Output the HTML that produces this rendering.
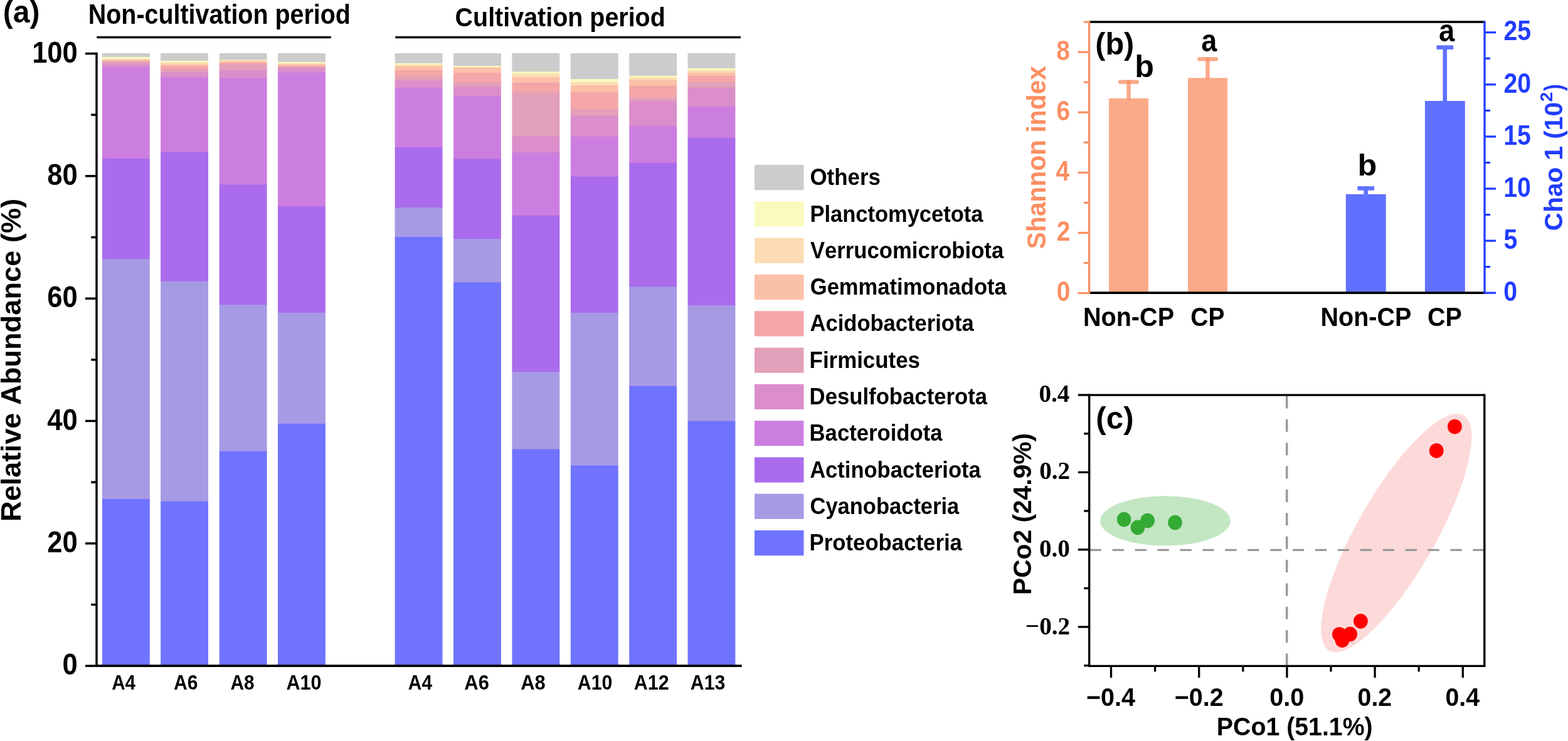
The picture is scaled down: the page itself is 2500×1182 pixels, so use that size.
<!DOCTYPE html>
<html><head><meta charset="utf-8"><title>Figure</title>
<style>
html,body{margin:0;padding:0;background:#fff;}
svg{display:block;}
text{font-kerning:none;}
</style></head>
<body>
<svg width="2500" height="1182" viewBox="0 0 2500 1182">
<rect x="0" y="0" width="2500" height="1182" fill="#FFFFFF"/>
<rect x="162.90" y="84.90" width="75.90" height="7.00" fill="#CCCCCC"/>
<rect x="162.90" y="90.90" width="75.90" height="4.10" fill="#FAFAC0"/>
<rect x="162.90" y="94.00" width="75.90" height="2.50" fill="#FCDCB2"/>
<rect x="162.90" y="95.50" width="75.90" height="2.40" fill="#FBC0A8"/>
<rect x="162.90" y="96.90" width="75.90" height="3.00" fill="#F5A6A8"/>
<rect x="162.90" y="98.90" width="75.90" height="3.80" fill="#E3A0BA"/>
<rect x="162.90" y="101.70" width="75.90" height="6.30" fill="#DB8ECA"/>
<rect x="162.90" y="107.00" width="75.90" height="147.00" fill="#CC7EE0"/>
<rect x="162.90" y="253.00" width="75.90" height="161.10" fill="#AA6CEC"/>
<rect x="162.90" y="413.10" width="75.90" height="383.80" fill="#A79AE5"/>
<rect x="162.90" y="795.90" width="75.90" height="266.10" fill="#7073FF"/>
<rect x="256.10" y="84.90" width="75.90" height="13.00" fill="#CCCCCC"/>
<rect x="256.10" y="96.90" width="75.90" height="3.40" fill="#FAFAC0"/>
<rect x="256.10" y="99.30" width="75.90" height="4.60" fill="#FCDCB2"/>
<rect x="256.10" y="102.90" width="75.90" height="3.40" fill="#FBC0A8"/>
<rect x="256.10" y="105.30" width="75.90" height="6.30" fill="#F5A6A8"/>
<rect x="256.10" y="110.60" width="75.90" height="5.30" fill="#E3A0BA"/>
<rect x="256.10" y="114.90" width="75.90" height="9.30" fill="#DB8ECA"/>
<rect x="256.10" y="123.20" width="75.90" height="120.50" fill="#CC7EE0"/>
<rect x="256.10" y="242.70" width="75.90" height="207.00" fill="#AA6CEC"/>
<rect x="256.10" y="448.70" width="75.90" height="352.00" fill="#A79AE5"/>
<rect x="256.10" y="799.70" width="75.90" height="262.30" fill="#7073FF"/>
<rect x="349.70" y="84.90" width="75.90" height="11.60" fill="#CCCCCC"/>
<rect x="349.70" y="95.50" width="75.90" height="1.90" fill="#FAFAC0"/>
<rect x="349.70" y="96.40" width="75.90" height="2.20" fill="#FCDCB2"/>
<rect x="349.70" y="97.60" width="75.90" height="3.40" fill="#FBC0A8"/>
<rect x="349.70" y="100.00" width="75.90" height="3.30" fill="#F5A6A8"/>
<rect x="349.70" y="102.30" width="75.90" height="11.10" fill="#E3A0BA"/>
<rect x="349.70" y="112.40" width="75.90" height="13.20" fill="#DB8ECA"/>
<rect x="349.70" y="124.60" width="75.90" height="170.90" fill="#CC7EE0"/>
<rect x="349.70" y="294.50" width="75.90" height="192.60" fill="#AA6CEC"/>
<rect x="349.70" y="486.10" width="75.90" height="234.60" fill="#A79AE5"/>
<rect x="349.70" y="719.70" width="75.90" height="342.30" fill="#7073FF"/>
<rect x="443.00" y="84.90" width="75.90" height="15.00" fill="#CCCCCC"/>
<rect x="443.00" y="98.90" width="75.90" height="3.00" fill="#FAFAC0"/>
<rect x="443.00" y="100.90" width="75.90" height="3.10" fill="#FCDCB2"/>
<rect x="443.00" y="103.00" width="75.90" height="2.80" fill="#FBC0A8"/>
<rect x="443.00" y="104.80" width="75.90" height="3.40" fill="#F5A6A8"/>
<rect x="443.00" y="107.20" width="75.90" height="1.90" fill="#E3A0BA"/>
<rect x="443.00" y="108.10" width="75.90" height="8.50" fill="#DB8ECA"/>
<rect x="443.00" y="115.60" width="75.90" height="214.40" fill="#CC7EE0"/>
<rect x="443.00" y="329.00" width="75.90" height="170.80" fill="#AA6CEC"/>
<rect x="443.00" y="498.80" width="75.90" height="178.00" fill="#A79AE5"/>
<rect x="443.00" y="675.80" width="75.90" height="386.20" fill="#7073FF"/>
<rect x="629.60" y="84.90" width="75.90" height="17.00" fill="#CCCCCC"/>
<rect x="629.60" y="100.90" width="75.90" height="3.30" fill="#FAFAC0"/>
<rect x="629.60" y="103.20" width="75.90" height="3.40" fill="#FCDCB2"/>
<rect x="629.60" y="105.60" width="75.90" height="7.30" fill="#FBC0A8"/>
<rect x="629.60" y="111.90" width="75.90" height="11.60" fill="#F5A6A8"/>
<rect x="629.60" y="122.50" width="75.90" height="6.70" fill="#E3A0BA"/>
<rect x="629.60" y="128.20" width="75.90" height="12.70" fill="#DB8ECA"/>
<rect x="629.60" y="139.90" width="75.90" height="96.00" fill="#CC7EE0"/>
<rect x="629.60" y="234.90" width="75.90" height="97.20" fill="#AA6CEC"/>
<rect x="629.60" y="331.10" width="75.90" height="47.80" fill="#A79AE5"/>
<rect x="629.60" y="377.90" width="75.90" height="684.10" fill="#7073FF"/>
<rect x="723.00" y="84.90" width="75.90" height="21.10" fill="#CCCCCC"/>
<rect x="723.00" y="105.00" width="75.90" height="3.40" fill="#FAFAC0"/>
<rect x="723.00" y="107.40" width="75.90" height="1.30" fill="#FCDCB2"/>
<rect x="723.00" y="107.70" width="75.90" height="9.70" fill="#FBC0A8"/>
<rect x="723.00" y="116.40" width="75.90" height="15.70" fill="#F5A6A8"/>
<rect x="723.00" y="131.10" width="75.90" height="7.70" fill="#E3A0BA"/>
<rect x="723.00" y="137.80" width="75.90" height="16.60" fill="#DB8ECA"/>
<rect x="723.00" y="153.40" width="75.90" height="101.00" fill="#CC7EE0"/>
<rect x="723.00" y="253.40" width="75.90" height="128.60" fill="#AA6CEC"/>
<rect x="723.00" y="381.00" width="75.90" height="70.20" fill="#A79AE5"/>
<rect x="723.00" y="450.20" width="75.90" height="611.80" fill="#7073FF"/>
<rect x="816.40" y="84.90" width="75.90" height="30.50" fill="#CCCCCC"/>
<rect x="816.40" y="114.40" width="75.90" height="4.40" fill="#FAFAC0"/>
<rect x="816.40" y="117.80" width="75.90" height="6.20" fill="#FCDCB2"/>
<rect x="816.40" y="123.00" width="75.90" height="9.70" fill="#FBC0A8"/>
<rect x="816.40" y="131.70" width="75.90" height="17.00" fill="#F5A6A8"/>
<rect x="816.40" y="147.70" width="75.90" height="71.00" fill="#E3A0BA"/>
<rect x="816.40" y="217.70" width="75.90" height="26.60" fill="#DB8ECA"/>
<rect x="816.40" y="243.30" width="75.90" height="101.50" fill="#CC7EE0"/>
<rect x="816.40" y="343.80" width="75.90" height="250.40" fill="#AA6CEC"/>
<rect x="816.40" y="593.20" width="75.90" height="124.30" fill="#A79AE5"/>
<rect x="816.40" y="716.50" width="75.90" height="345.50" fill="#7073FF"/>
<rect x="909.80" y="84.90" width="75.90" height="42.20" fill="#CCCCCC"/>
<rect x="909.80" y="126.10" width="75.90" height="5.90" fill="#FAFAC0"/>
<rect x="909.80" y="131.00" width="75.90" height="6.20" fill="#FCDCB2"/>
<rect x="909.80" y="136.20" width="75.90" height="11.80" fill="#FBC0A8"/>
<rect x="909.80" y="147.00" width="75.90" height="28.30" fill="#F5A6A8"/>
<rect x="909.80" y="174.30" width="75.90" height="10.70" fill="#E3A0BA"/>
<rect x="909.80" y="184.00" width="75.90" height="34.70" fill="#DB8ECA"/>
<rect x="909.80" y="217.70" width="75.90" height="64.90" fill="#CC7EE0"/>
<rect x="909.80" y="281.60" width="75.90" height="218.30" fill="#AA6CEC"/>
<rect x="909.80" y="498.90" width="75.90" height="244.60" fill="#A79AE5"/>
<rect x="909.80" y="742.50" width="75.90" height="319.50" fill="#7073FF"/>
<rect x="1003.20" y="84.90" width="75.90" height="36.90" fill="#CCCCCC"/>
<rect x="1003.20" y="120.80" width="75.90" height="3.80" fill="#FAFAC0"/>
<rect x="1003.20" y="123.60" width="75.90" height="5.20" fill="#FCDCB2"/>
<rect x="1003.20" y="127.80" width="75.90" height="10.10" fill="#FBC0A8"/>
<rect x="1003.20" y="136.90" width="75.90" height="20.10" fill="#F5A6A8"/>
<rect x="1003.20" y="156.00" width="75.90" height="6.60" fill="#E3A0BA"/>
<rect x="1003.20" y="161.60" width="75.90" height="40.30" fill="#DB8ECA"/>
<rect x="1003.20" y="200.90" width="75.90" height="60.00" fill="#CC7EE0"/>
<rect x="1003.20" y="259.90" width="75.90" height="198.60" fill="#AA6CEC"/>
<rect x="1003.20" y="457.50" width="75.90" height="159.10" fill="#A79AE5"/>
<rect x="1003.20" y="615.60" width="75.90" height="446.40" fill="#7073FF"/>
<rect x="1096.50" y="84.90" width="75.90" height="25.00" fill="#CCCCCC"/>
<rect x="1096.50" y="108.90" width="75.90" height="4.10" fill="#FAFAC0"/>
<rect x="1096.50" y="112.00" width="75.90" height="5.00" fill="#FCDCB2"/>
<rect x="1096.50" y="116.00" width="75.90" height="6.00" fill="#FBC0A8"/>
<rect x="1096.50" y="121.00" width="75.90" height="11.20" fill="#F5A6A8"/>
<rect x="1096.50" y="131.20" width="75.90" height="9.70" fill="#E3A0BA"/>
<rect x="1096.50" y="139.90" width="75.90" height="30.90" fill="#DB8ECA"/>
<rect x="1096.50" y="169.80" width="75.90" height="51.10" fill="#CC7EE0"/>
<rect x="1096.50" y="219.90" width="75.90" height="268.20" fill="#AA6CEC"/>
<rect x="1096.50" y="487.10" width="75.90" height="185.50" fill="#A79AE5"/>
<rect x="1096.50" y="671.60" width="75.90" height="390.40" fill="#7073FF"/>
<line x1="154.00" y1="83.70" x2="154.00" y2="1063.90" stroke="#000" stroke-width="3.5" />
<line x1="152.25" y1="1062.20" x2="1182.70" y2="1062.20" stroke="#000" stroke-width="3.8" />
<line x1="136.00" y1="1062.20" x2="154.00" y2="1062.20" stroke="#000" stroke-width="3.5" />
<line x1="145.20" y1="964.53" x2="154.00" y2="964.53" stroke="#000" stroke-width="3.5" />
<line x1="136.00" y1="866.86" x2="154.00" y2="866.86" stroke="#000" stroke-width="3.5" />
<line x1="145.20" y1="769.19" x2="154.00" y2="769.19" stroke="#000" stroke-width="3.5" />
<line x1="136.00" y1="671.52" x2="154.00" y2="671.52" stroke="#000" stroke-width="3.5" />
<line x1="145.20" y1="573.85" x2="154.00" y2="573.85" stroke="#000" stroke-width="3.5" />
<line x1="136.00" y1="476.18" x2="154.00" y2="476.18" stroke="#000" stroke-width="3.5" />
<line x1="145.20" y1="378.51" x2="154.00" y2="378.51" stroke="#000" stroke-width="3.5" />
<line x1="136.00" y1="280.84" x2="154.00" y2="280.84" stroke="#000" stroke-width="3.5" />
<line x1="145.20" y1="183.17" x2="154.00" y2="183.17" stroke="#000" stroke-width="3.5" />
<line x1="136.00" y1="85.50" x2="154.00" y2="85.50" stroke="#000" stroke-width="3.5" />
<text x="51.16" y="99.50" font-family="'Liberation Sans', Arial, sans-serif" font-weight="bold" font-size="48.00" textLength="72.63" lengthAdjust="spacingAndGlyphs" fill="#000">100</text>
<text x="75.37" y="294.84" font-family="'Liberation Sans', Arial, sans-serif" font-weight="bold" font-size="48.00" textLength="48.42" lengthAdjust="spacingAndGlyphs" fill="#000">80</text>
<text x="75.37" y="490.18" font-family="'Liberation Sans', Arial, sans-serif" font-weight="bold" font-size="48.00" textLength="48.42" lengthAdjust="spacingAndGlyphs" fill="#000">60</text>
<text x="75.37" y="685.52" font-family="'Liberation Sans', Arial, sans-serif" font-weight="bold" font-size="48.00" textLength="48.42" lengthAdjust="spacingAndGlyphs" fill="#000">40</text>
<text x="75.37" y="880.86" font-family="'Liberation Sans', Arial, sans-serif" font-weight="bold" font-size="48.00" textLength="48.42" lengthAdjust="spacingAndGlyphs" fill="#000">20</text>
<text x="99.58" y="1076.20" font-family="'Liberation Sans', Arial, sans-serif" font-weight="bold" font-size="48.00" textLength="24.21" lengthAdjust="spacingAndGlyphs" fill="#000">0</text>
<line x1="154.30" y1="59.60" x2="527.80" y2="59.60" stroke="#000" stroke-width="3.5" />
<line x1="630.30" y1="59.60" x2="1180.90" y2="59.60" stroke="#000" stroke-width="3.5" />
<text x="140.87" y="37.80" font-family="'Liberation Sans', Arial, sans-serif" font-weight="bold" font-size="44.00" textLength="417.93" lengthAdjust="spacingAndGlyphs" fill="#000">Non-cultivation period</text>
<text x="725.58" y="42.20" font-family="'Liberation Sans', Arial, sans-serif" font-weight="bold" font-size="42.50" textLength="335.22" lengthAdjust="spacingAndGlyphs" fill="#000">Cultivation period</text>
<text x="4.81" y="36.30" font-family="'Liberation Sans', Arial, sans-serif" font-weight="bold" font-size="50.50" textLength="58.68" lengthAdjust="spacingAndGlyphs" fill="#000">(a)</text>
<text x="178.16" y="1100.40" font-family="'Liberation Sans', Arial, sans-serif" font-weight="bold" font-size="33.60" textLength="37.90" lengthAdjust="spacingAndGlyphs" fill="#000">A4</text>
<text x="276.95" y="1100.40" font-family="'Liberation Sans', Arial, sans-serif" font-weight="bold" font-size="33.60" textLength="38.44" lengthAdjust="spacingAndGlyphs" fill="#000">A6</text>
<text x="367.46" y="1100.40" font-family="'Liberation Sans', Arial, sans-serif" font-weight="bold" font-size="33.60" textLength="38.06" lengthAdjust="spacingAndGlyphs" fill="#000">A8</text>
<text x="456.44" y="1100.40" font-family="'Liberation Sans', Arial, sans-serif" font-weight="bold" font-size="33.60" textLength="56.12" lengthAdjust="spacingAndGlyphs" fill="#000">A10</text>
<text x="650.86" y="1100.40" font-family="'Liberation Sans', Arial, sans-serif" font-weight="bold" font-size="33.60" textLength="38.10" lengthAdjust="spacingAndGlyphs" fill="#000">A4</text>
<text x="740.33" y="1100.40" font-family="'Liberation Sans', Arial, sans-serif" font-weight="bold" font-size="33.60" textLength="39.59" lengthAdjust="spacingAndGlyphs" fill="#000">A6</text>
<text x="830.33" y="1100.40" font-family="'Liberation Sans', Arial, sans-serif" font-weight="bold" font-size="33.60" textLength="39.42" lengthAdjust="spacingAndGlyphs" fill="#000">A8</text>
<text x="920.85" y="1100.40" font-family="'Liberation Sans', Arial, sans-serif" font-weight="bold" font-size="33.60" textLength="55.49" lengthAdjust="spacingAndGlyphs" fill="#000">A10</text>
<text x="1010.84" y="1100.40" font-family="'Liberation Sans', Arial, sans-serif" font-weight="bold" font-size="33.60" textLength="55.98" lengthAdjust="spacingAndGlyphs" fill="#000">A12</text>
<text x="1100.85" y="1100.40" font-family="'Liberation Sans', Arial, sans-serif" font-weight="bold" font-size="33.60" textLength="55.34" lengthAdjust="spacingAndGlyphs" fill="#000">A13</text>
<text transform="translate(33.00,832.03) rotate(-90)" x="0" y="0" font-family="'Liberation Sans', Arial, sans-serif" font-weight="bold" font-size="45.00" textLength="515.28" lengthAdjust="spacingAndGlyphs" fill="#000">Relative Abundance (%)</text>
<rect x="1203.00" y="263.00" width="78.50" height="40.20" fill="#CCCCCC"/>
<text x="1291.47" y="295.20" font-family="'Liberation Sans', Arial, sans-serif" font-weight="bold" font-size="36.20" textLength="112.46" lengthAdjust="spacingAndGlyphs" fill="#000">Others</text>
<rect x="1203.00" y="321.30" width="78.50" height="40.20" fill="#FAFAC0"/>
<text x="1291.39" y="353.50" font-family="'Liberation Sans', Arial, sans-serif" font-weight="bold" font-size="36.20" textLength="276.09" lengthAdjust="spacingAndGlyphs" fill="#000">Planctomycetota</text>
<rect x="1203.00" y="379.60" width="78.50" height="40.20" fill="#FCDCB2"/>
<text x="1291.96" y="411.80" font-family="'Liberation Sans', Arial, sans-serif" font-weight="bold" font-size="36.20" textLength="308.22" lengthAdjust="spacingAndGlyphs" fill="#000">Verrucomicrobiota</text>
<rect x="1203.00" y="437.90" width="78.50" height="40.20" fill="#FBC0A8"/>
<text x="1291.78" y="470.10" font-family="'Liberation Sans', Arial, sans-serif" font-weight="bold" font-size="36.20" textLength="313.00" lengthAdjust="spacingAndGlyphs" fill="#000">Gemmatimonadota</text>
<rect x="1203.00" y="496.20" width="78.50" height="40.20" fill="#F5A6A8"/>
<text x="1291.54" y="528.40" font-family="'Liberation Sans', Arial, sans-serif" font-weight="bold" font-size="36.20" textLength="261.14" lengthAdjust="spacingAndGlyphs" fill="#000">Acidobacteriota</text>
<rect x="1203.00" y="554.50" width="78.50" height="40.20" fill="#E3A0BA"/>
<text x="1290.57" y="586.70" font-family="'Liberation Sans', Arial, sans-serif" font-weight="bold" font-size="36.20" textLength="176.47" lengthAdjust="spacingAndGlyphs" fill="#000">Firmicutes</text>
<rect x="1203.00" y="612.80" width="78.50" height="40.20" fill="#DB8ECA"/>
<text x="1290.58" y="645.00" font-family="'Liberation Sans', Arial, sans-serif" font-weight="bold" font-size="36.20" textLength="283.50" lengthAdjust="spacingAndGlyphs" fill="#000">Desulfobacterota</text>
<rect x="1203.00" y="671.10" width="78.50" height="40.20" fill="#CC7EE0"/>
<text x="1290.58" y="703.30" font-family="'Liberation Sans', Arial, sans-serif" font-weight="bold" font-size="36.20" textLength="211.90" lengthAdjust="spacingAndGlyphs" fill="#000">Bacteroidota</text>
<rect x="1203.00" y="729.40" width="78.50" height="40.20" fill="#AA6CEC"/>
<text x="1291.14" y="761.60" font-family="'Liberation Sans', Arial, sans-serif" font-weight="bold" font-size="36.20" textLength="272.64" lengthAdjust="spacingAndGlyphs" fill="#000">Actinobacteriota</text>
<rect x="1203.00" y="787.70" width="78.50" height="40.20" fill="#A79AE5"/>
<text x="1291.48" y="819.90" font-family="'Liberation Sans', Arial, sans-serif" font-weight="bold" font-size="36.20" textLength="237.80" lengthAdjust="spacingAndGlyphs" fill="#000">Cyanobacteria</text>
<rect x="1203.00" y="846.00" width="78.50" height="40.20" fill="#7073FF"/>
<text x="1290.58" y="878.20" font-family="'Liberation Sans', Arial, sans-serif" font-weight="bold" font-size="36.20" textLength="243.30" lengthAdjust="spacingAndGlyphs" fill="#000">Proteobacteria</text>
<rect x="1768.00" y="156.90" width="63.00" height="310.30" fill="#FBAA87"/>
<rect x="1894.00" y="124.30" width="63.00" height="342.90" fill="#FBAA87"/>
<rect x="2145.80" y="309.80" width="63.90" height="157.40" fill="#6070FF"/>
<rect x="2271.90" y="161.00" width="63.90" height="306.20" fill="#6070FF"/>
<line x1="1799.50" y1="156.25" x2="1799.50" y2="130.70" stroke="#F9926A" stroke-width="6.5" stroke-linecap="round" stroke-opacity="0.78"/>
<line x1="1786.20" y1="130.70" x2="1812.80" y2="130.70" stroke="#F9926A" stroke-width="6.5" stroke-linecap="round" stroke-opacity="0.78"/>
<line x1="1925.50" y1="124.25" x2="1925.50" y2="94.20" stroke="#F9926A" stroke-width="6.5" stroke-linecap="round" stroke-opacity="0.78"/>
<line x1="1912.20" y1="94.20" x2="1938.80" y2="94.20" stroke="#F9926A" stroke-width="6.5" stroke-linecap="round" stroke-opacity="0.78"/>
<line x1="2177.70" y1="309.95" x2="2177.70" y2="300.40" stroke="#6070FF" stroke-width="6.6" />
<line x1="2164.35" y1="300.40" x2="2191.05" y2="300.40" stroke="#6070FF" stroke-width="6.6" />
<line x1="2303.80" y1="161.00" x2="2303.80" y2="75.60" stroke="#6070FF" stroke-width="6.6" />
<line x1="2290.50" y1="75.60" x2="2317.10" y2="75.60" stroke="#6070FF" stroke-width="6.6" />
<line x1="1737.20" y1="35.00" x2="2367.00" y2="35.00" stroke="#000" stroke-width="3.5" />
<line x1="1737.20" y1="467.20" x2="2367.00" y2="467.20" stroke="#000" stroke-width="3.8" />
<line x1="1736.60" y1="33.50" x2="1736.60" y2="469.10" stroke="#FA8F62" stroke-width="3.2" />
<line x1="2367.00" y1="33.30" x2="2367.00" y2="468.80" stroke="#203CFF" stroke-width="3.3" />
<line x1="1718.50" y1="467.50" x2="1736.60" y2="467.50" stroke="#FA8F62" stroke-width="3.2" />
<line x1="1727.80" y1="419.45" x2="1736.60" y2="419.45" stroke="#FA8F62" stroke-width="3.2" />
<line x1="1718.50" y1="371.40" x2="1736.60" y2="371.40" stroke="#FA8F62" stroke-width="3.2" />
<line x1="1727.80" y1="323.35" x2="1736.60" y2="323.35" stroke="#FA8F62" stroke-width="3.2" />
<line x1="1718.50" y1="275.30" x2="1736.60" y2="275.30" stroke="#FA8F62" stroke-width="3.2" />
<line x1="1727.80" y1="227.25" x2="1736.60" y2="227.25" stroke="#FA8F62" stroke-width="3.2" />
<line x1="1718.50" y1="179.20" x2="1736.60" y2="179.20" stroke="#FA8F62" stroke-width="3.2" />
<line x1="1727.80" y1="131.15" x2="1736.60" y2="131.15" stroke="#FA8F62" stroke-width="3.2" />
<line x1="1718.50" y1="83.10" x2="1736.60" y2="83.10" stroke="#FA8F62" stroke-width="3.2" />
<line x1="1727.80" y1="35.05" x2="1736.60" y2="35.05" stroke="#FA8F62" stroke-width="3.2" />
<text x="1684.37" y="95.60" font-family="'Liberation Sans', Arial, sans-serif" font-weight="bold" font-size="44.20" textLength="21.63" lengthAdjust="spacingAndGlyphs" fill="#FA8F62">8</text>
<text x="1684.57" y="191.70" font-family="'Liberation Sans', Arial, sans-serif" font-weight="bold" font-size="44.20" textLength="21.63" lengthAdjust="spacingAndGlyphs" fill="#FA8F62">6</text>
<text x="1683.38" y="287.80" font-family="'Liberation Sans', Arial, sans-serif" font-weight="bold" font-size="44.20" textLength="21.63" lengthAdjust="spacingAndGlyphs" fill="#FA8F62">4</text>
<text x="1684.73" y="383.90" font-family="'Liberation Sans', Arial, sans-serif" font-weight="bold" font-size="44.20" textLength="21.63" lengthAdjust="spacingAndGlyphs" fill="#FA8F62">2</text>
<text x="1684.76" y="480.00" font-family="'Liberation Sans', Arial, sans-serif" font-weight="bold" font-size="44.20" textLength="21.63" lengthAdjust="spacingAndGlyphs" fill="#FA8F62">0</text>
<line x1="2367.00" y1="467.20" x2="2385.00" y2="467.20" stroke="#203CFF" stroke-width="3.3" />
<line x1="2367.00" y1="425.65" x2="2376.00" y2="425.65" stroke="#203CFF" stroke-width="3.3" />
<line x1="2367.00" y1="384.10" x2="2385.00" y2="384.10" stroke="#203CFF" stroke-width="3.3" />
<line x1="2367.00" y1="342.55" x2="2376.00" y2="342.55" stroke="#203CFF" stroke-width="3.3" />
<line x1="2367.00" y1="301.00" x2="2385.00" y2="301.00" stroke="#203CFF" stroke-width="3.3" />
<line x1="2367.00" y1="259.45" x2="2376.00" y2="259.45" stroke="#203CFF" stroke-width="3.3" />
<line x1="2367.00" y1="217.90" x2="2385.00" y2="217.90" stroke="#203CFF" stroke-width="3.3" />
<line x1="2367.00" y1="176.35" x2="2376.00" y2="176.35" stroke="#203CFF" stroke-width="3.3" />
<line x1="2367.00" y1="134.80" x2="2385.00" y2="134.80" stroke="#203CFF" stroke-width="3.3" />
<line x1="2367.00" y1="93.25" x2="2376.00" y2="93.25" stroke="#203CFF" stroke-width="3.3" />
<line x1="2367.00" y1="51.70" x2="2385.00" y2="51.70" stroke="#203CFF" stroke-width="3.3" />
<text x="2397.44" y="64.30" font-family="'Liberation Sans', Arial, sans-serif" font-weight="bold" font-size="44.00" textLength="43.65" lengthAdjust="spacingAndGlyphs" fill="#203CFF">25</text>
<text x="2397.44" y="147.70" font-family="'Liberation Sans', Arial, sans-serif" font-weight="bold" font-size="44.00" textLength="43.65" lengthAdjust="spacingAndGlyphs" fill="#203CFF">20</text>
<text x="2397.13" y="230.80" font-family="'Liberation Sans', Arial, sans-serif" font-weight="bold" font-size="44.00" textLength="43.65" lengthAdjust="spacingAndGlyphs" fill="#203CFF">15</text>
<text x="2397.13" y="313.90" font-family="'Liberation Sans', Arial, sans-serif" font-weight="bold" font-size="44.00" textLength="43.65" lengthAdjust="spacingAndGlyphs" fill="#203CFF">10</text>
<text x="2397.59" y="397.00" font-family="'Liberation Sans', Arial, sans-serif" font-weight="bold" font-size="44.00" textLength="21.83" lengthAdjust="spacingAndGlyphs" fill="#203CFF">5</text>
<text x="2397.25" y="480.10" font-family="'Liberation Sans', Arial, sans-serif" font-weight="bold" font-size="44.00" textLength="21.83" lengthAdjust="spacingAndGlyphs" fill="#203CFF">0</text>
<text transform="translate(1666.60,397.17) rotate(-90)" x="0" y="0" font-family="'Liberation Sans', Arial, sans-serif" font-weight="bold" font-size="42.50" textLength="292.17" lengthAdjust="spacingAndGlyphs" fill="#FA8F62">Shannon index</text>
<text transform="translate(2491.30,368.16) rotate(-90)" x="0" y="0" font-family="'Liberation Sans', Arial, sans-serif" font-weight="bold" font-size="41.00" textLength="205.13" lengthAdjust="spacingAndGlyphs" fill="#203CFF">Chao 1 (10</text>
<text transform="translate(2475.00,162.59) rotate(-90)" x="0" y="0" font-family="'Liberation Sans', Arial, sans-serif" font-weight="bold" font-size="27.60" textLength="15.83" lengthAdjust="spacingAndGlyphs" fill="#203CFF">2</text>
<text transform="translate(2491.30,144.93) rotate(-90)" x="0" y="0" font-family="'Liberation Sans', Arial, sans-serif" font-weight="bold" font-size="41.00" textLength="10.86" lengthAdjust="spacingAndGlyphs" fill="#203CFF">)</text>
<text x="1726.95" y="519.90" font-family="'Liberation Sans', Arial, sans-serif" font-weight="bold" font-size="43.00" textLength="145.10" lengthAdjust="spacingAndGlyphs" fill="#000">Non-CP</text>
<text x="1898.30" y="519.90" font-family="'Liberation Sans', Arial, sans-serif" font-weight="bold" font-size="43.00" textLength="54.13" lengthAdjust="spacingAndGlyphs" fill="#000">CP</text>
<text x="2105.56" y="519.90" font-family="'Liberation Sans', Arial, sans-serif" font-weight="bold" font-size="43.00" textLength="144.79" lengthAdjust="spacingAndGlyphs" fill="#000">Non-CP</text>
<text x="2276.08" y="519.90" font-family="'Liberation Sans', Arial, sans-serif" font-weight="bold" font-size="43.00" textLength="54.76" lengthAdjust="spacingAndGlyphs" fill="#000">CP</text>
<text x="1746.28" y="86.90" font-family="'Liberation Sans', Arial, sans-serif" font-weight="bold" font-size="49.50" textLength="62.04" lengthAdjust="spacingAndGlyphs" fill="#000">(b)</text>
<text x="1809.19" y="122.70" font-family="'Liberation Sans', Arial, sans-serif" font-weight="bold" font-size="49.40" textLength="30.67" lengthAdjust="spacingAndGlyphs" fill="#000">b</text>
<text x="1915.28" y="82.00" font-family="'Liberation Sans', Arial, sans-serif" font-weight="bold" font-size="50.20" textLength="25.03" lengthAdjust="spacingAndGlyphs" fill="#000">a</text>
<text x="2164.48" y="280.10" font-family="'Liberation Sans', Arial, sans-serif" font-weight="bold" font-size="48.50" textLength="30.79" lengthAdjust="spacingAndGlyphs" fill="#000">b</text>
<text x="2294.07" y="66.20" font-family="'Liberation Sans', Arial, sans-serif" font-weight="bold" font-size="49.50" textLength="25.24" lengthAdjust="spacingAndGlyphs" fill="#000">a</text>
<ellipse cx="1857.95" cy="830.9" rx="103.95" ry="39.7" fill="#C3E6C3"/>
<ellipse cx="2226.3" cy="850.2" rx="216.1" ry="62.6" transform="rotate(-60.3 2226.3 850.2)" fill="#FDDADA"/>
<line x1="1737.70" y1="877.30" x2="2366.80" y2="877.30" stroke="#999999" stroke-width="3.3" stroke-dasharray="18.3 17.62"/>
<line x1="2051.70" y1="631.40" x2="2051.70" y2="1062.00" stroke="#999999" stroke-width="3.5" stroke-dasharray="20 17.38"/>
<ellipse cx="1792.15" cy="828.55" rx="11.3" ry="11.85" fill="#33AA33"/>
<ellipse cx="1814.0" cy="841.3" rx="11.3" ry="11.85" fill="#33AA33"/>
<ellipse cx="1829.6" cy="830.5" rx="11.3" ry="11.85" fill="#33AA33"/>
<ellipse cx="1873.5" cy="833.6" rx="11.3" ry="11.85" fill="#33AA33"/>
<ellipse cx="2319.4" cy="680.5" rx="11.4" ry="11.85" fill="#FF0000"/>
<ellipse cx="2290.2" cy="718.9" rx="11.4" ry="11.85" fill="#FF0000"/>
<ellipse cx="2169.4" cy="990.8" rx="11.4" ry="11.85" fill="#FF0000"/>
<ellipse cx="2152.6" cy="1011.7" rx="11.4" ry="11.85" fill="#FF0000"/>
<ellipse cx="2135.4" cy="1012.0" rx="11.4" ry="11.85" fill="#FF0000"/>
<ellipse cx="2140.0" cy="1021.1" rx="11.4" ry="11.85" fill="#FF0000"/>
<line x1="1736.70" y1="630.20" x2="2366.80" y2="630.20" stroke="#000" stroke-width="3.3" />
<line x1="1736.70" y1="1062.40" x2="2366.80" y2="1062.40" stroke="#000" stroke-width="3.3" />
<line x1="1736.70" y1="628.50" x2="1736.70" y2="1064.00" stroke="#000" stroke-width="3.4" />
<line x1="2366.80" y1="628.50" x2="2366.80" y2="1064.00" stroke="#000" stroke-width="3.4" />
<line x1="1728.20" y1="1061.68" x2="1736.70" y2="1061.68" stroke="#000" stroke-width="3.3" />
<line x1="1718.80" y1="1000.02" x2="1736.70" y2="1000.02" stroke="#000" stroke-width="3.3" />
<line x1="1728.20" y1="938.36" x2="1736.70" y2="938.36" stroke="#000" stroke-width="3.3" />
<line x1="1718.80" y1="876.70" x2="1736.70" y2="876.70" stroke="#000" stroke-width="3.3" />
<line x1="1728.20" y1="815.04" x2="1736.70" y2="815.04" stroke="#000" stroke-width="3.3" />
<line x1="1718.80" y1="753.38" x2="1736.70" y2="753.38" stroke="#000" stroke-width="3.3" />
<line x1="1728.20" y1="691.72" x2="1736.70" y2="691.72" stroke="#000" stroke-width="3.3" />
<line x1="1718.80" y1="630.06" x2="1736.70" y2="630.06" stroke="#000" stroke-width="3.3" />
<line x1="1771.50" y1="1062.40" x2="1771.50" y2="1081.00" stroke="#000" stroke-width="3.3" />
<line x1="1841.60" y1="1062.40" x2="1841.60" y2="1071.40" stroke="#000" stroke-width="3.3" />
<line x1="1911.70" y1="1062.40" x2="1911.70" y2="1081.00" stroke="#000" stroke-width="3.3" />
<line x1="1981.80" y1="1062.40" x2="1981.80" y2="1071.40" stroke="#000" stroke-width="3.3" />
<line x1="2051.90" y1="1062.40" x2="2051.90" y2="1081.00" stroke="#000" stroke-width="3.3" />
<line x1="2122.00" y1="1062.40" x2="2122.00" y2="1071.40" stroke="#000" stroke-width="3.3" />
<line x1="2192.10" y1="1062.40" x2="2192.10" y2="1081.00" stroke="#000" stroke-width="3.3" />
<line x1="2262.20" y1="1062.40" x2="2262.20" y2="1071.40" stroke="#000" stroke-width="3.3" />
<line x1="2332.30" y1="1062.40" x2="2332.30" y2="1081.00" stroke="#000" stroke-width="3.3" />
<text x="1656.41" y="641.30" font-family="'Liberation Serif', 'Times New Roman', serif" font-weight="bold" font-size="40.00" textLength="48.92" lengthAdjust="spacingAndGlyphs" fill="#000">0.4</text>
<text x="1657.16" y="764.10" font-family="'Liberation Serif', 'Times New Roman', serif" font-weight="bold" font-size="40.00" textLength="48.92" lengthAdjust="spacingAndGlyphs" fill="#000">0.2</text>
<text x="1656.97" y="887.70" font-family="'Liberation Serif', 'Times New Roman', serif" font-weight="bold" font-size="40.00" textLength="48.92" lengthAdjust="spacingAndGlyphs" fill="#000">0.0</text>
<text x="1634.87" y="1011.90" font-family="'Liberation Serif', 'Times New Roman', serif" font-weight="bold" font-size="40.00" textLength="71.22" lengthAdjust="spacingAndGlyphs" fill="#000">−0.2</text>
<text x="1732.06" y="1125.60" font-family="'Liberation Sans', Arial, sans-serif" font-weight="bold" font-size="40.50" textLength="77.95" lengthAdjust="spacingAndGlyphs" fill="#000">−0.4</text>
<text x="1872.76" y="1125.60" font-family="'Liberation Sans', Arial, sans-serif" font-weight="bold" font-size="40.50" textLength="77.92" lengthAdjust="spacingAndGlyphs" fill="#000">−0.2</text>
<text x="2024.13" y="1125.60" font-family="'Liberation Sans', Arial, sans-serif" font-weight="bold" font-size="40.50" textLength="55.20" lengthAdjust="spacingAndGlyphs" fill="#000">0.0</text>
<text x="2164.55" y="1125.60" font-family="'Liberation Sans', Arial, sans-serif" font-weight="bold" font-size="40.50" textLength="54.63" lengthAdjust="spacingAndGlyphs" fill="#000">0.2</text>
<text x="2304.44" y="1125.60" font-family="'Liberation Sans', Arial, sans-serif" font-weight="bold" font-size="40.50" textLength="54.67" lengthAdjust="spacingAndGlyphs" fill="#000">0.4</text>
<text x="1939.87" y="1173.40" font-family="'Liberation Sans', Arial, sans-serif" font-weight="bold" font-size="41.00" textLength="248.78" lengthAdjust="spacingAndGlyphs" fill="#000">PCo1 (51.1%)</text>
<text transform="translate(1643.80,949.02) rotate(-90)" x="0" y="0" font-family="'Liberation Sans', Arial, sans-serif" font-weight="bold" font-size="40.30" textLength="258.05" lengthAdjust="spacingAndGlyphs" fill="#000">PCo2 (24.9%)</text>
<text x="1747.35" y="683.60" font-family="'Liberation Sans', Arial, sans-serif" font-weight="bold" font-size="49.50" textLength="60.21" lengthAdjust="spacingAndGlyphs" fill="#000">(c)</text>
</svg>
</body></html>
